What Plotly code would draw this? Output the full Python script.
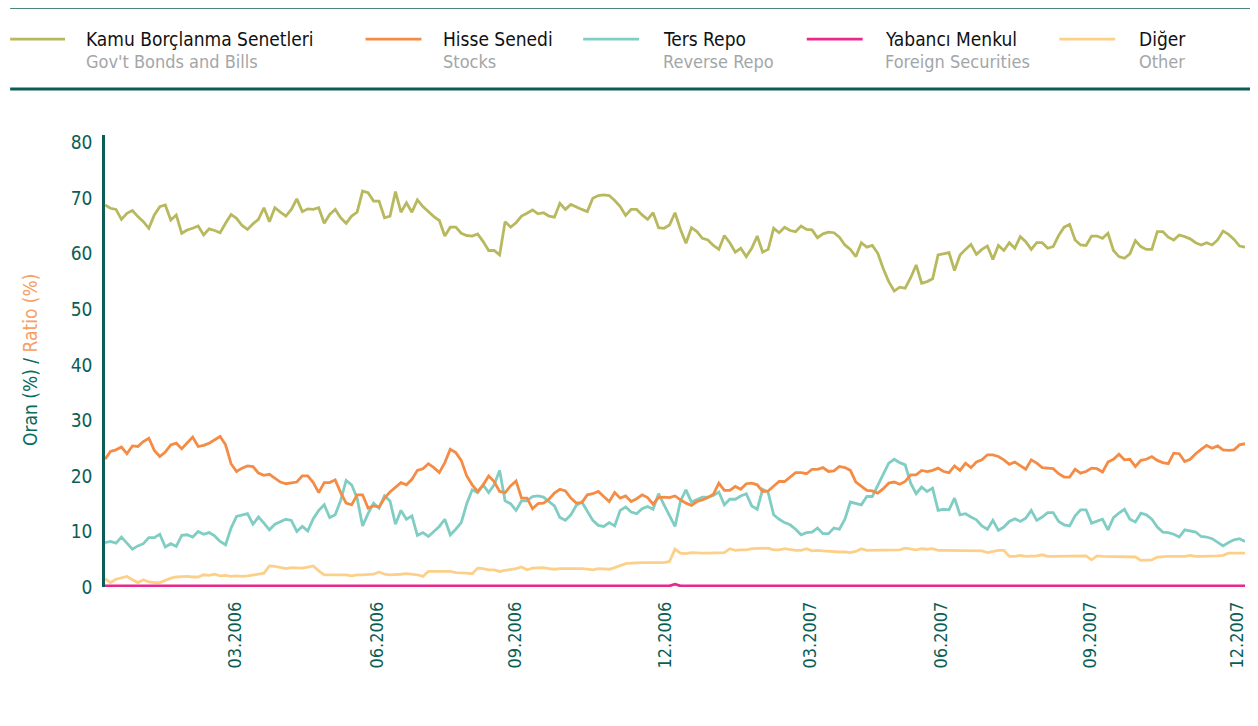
import pandas as pd
import plotly.graph_objects as go

# Observation dates (every 3.5 days, Jan 2006 - Dec 2007)
DATES = pd.date_range("2006-01-02", periods=209, freq="84h")

KAMU = [68.8, 68.2, 68.0, 66.2, 67.3, 67.8, 66.7, 65.8, 64.6, 67.0,
        68.5, 68.8, 66.1, 67.0, 63.7, 64.3, 64.6, 65.0, 63.4, 64.5,
        64.2, 63.8, 65.5, 67.1, 66.4, 65.1, 64.4, 65.4, 66.2, 68.3,
        65.8, 68.3, 67.5, 66.8, 68.0, 69.9, 67.6, 68.1, 68.0, 68.3,
        65.5, 67.1, 68.0, 66.5, 65.5, 66.8, 67.5, 71.3, 71.0, 69.5,
        69.5, 66.5, 66.8, 71.2, 67.5, 69.2, 67.5, 69.7, 68.5, 67.6,
        66.7, 66.0, 63.2, 64.8, 64.8, 63.7, 63.3, 63.2, 63.6, 62.2,
        60.6, 60.6, 59.8, 65.8, 64.8, 65.6, 66.8, 67.3, 67.9, 67.2,
        67.4, 66.8, 66.6, 69.1, 68.0, 68.9, 68.4, 68.0, 67.6, 70.0,
        70.5, 70.6, 70.5, 69.6, 68.5, 66.9, 68.0, 68.0, 67.0, 66.2,
        67.4, 64.7, 64.6, 65.2, 67.4, 64.4, 61.9, 64.7, 64.0, 62.8,
        62.5, 61.5, 60.8, 63.3, 62.0, 60.3, 61.0, 59.5, 61.0, 63.2,
        60.3, 60.8, 64.6, 63.8, 64.8, 64.2, 64.0, 65.0, 64.4, 64.3,
        62.9, 63.6, 63.9, 63.8, 63.0, 61.6, 60.8, 59.5, 62.0, 61.2,
        61.5, 60.1, 57.3, 55.0, 53.3, 54.0, 53.8, 55.7, 58.0, 54.7,
        55.0, 55.5, 59.8, 60.0, 60.2, 57.0, 59.8, 60.8, 61.7, 59.9,
        60.8, 61.4, 59.0, 61.5, 60.6, 62.0, 61.0, 63.1, 62.2, 60.8,
        62.0, 62.0, 61.0, 61.3, 63.3, 64.8, 65.3, 62.5, 61.6, 61.5,
        63.2, 63.2, 62.8, 63.7, 60.6, 59.5, 59.2, 60.0, 62.4, 61.3,
        60.8, 60.8, 64.0, 64.0, 63.0, 62.5, 63.4, 63.1, 62.7, 62.0,
        61.6, 62.0, 61.6, 62.5, 64.1, 63.5, 62.6, 61.4, 61.2]

HISSE = [23.0, 24.4, 24.7, 25.2, 24.0, 25.4, 25.3, 26.2, 26.8, 24.6,
         23.5, 24.3, 25.6, 25.9, 24.9, 26.0, 27.0, 25.3, 25.5, 25.9,
         26.5, 27.1, 25.6, 22.2, 20.8, 21.4, 21.8, 21.7, 20.5, 20.1,
         20.3, 19.6, 18.9, 18.6, 18.8, 18.9, 20.0, 20.0, 18.8, 17.0,
         18.8, 18.8, 19.3, 17.0, 15.1, 14.8, 16.6, 16.6, 14.2, 14.6,
         14.4, 16.0, 17.1, 17.9, 18.8, 18.4, 19.4, 21.0, 21.3, 22.2,
         21.5, 20.6, 22.4, 24.8, 24.2, 22.8, 20.0, 18.4, 17.2, 18.4,
         20.0, 19.0, 17.2, 17.0, 18.2, 19.1, 16.0, 16.0, 14.1, 15.0,
         15.1, 15.8, 16.9, 17.6, 17.3, 16.0, 15.1, 15.2, 16.6, 16.8,
         17.2, 16.3, 15.4, 17.0, 16.0, 16.4, 15.4, 15.9, 16.6, 16.1,
         14.9, 16.1, 16.2, 16.1, 16.4, 15.7, 15.1, 14.7, 15.4, 15.7,
         16.1, 16.7, 18.7, 17.4, 17.4, 18.1, 17.6, 18.6, 18.7, 18.4,
         17.2, 17.3, 18.2, 19.0, 19.0, 19.8, 20.6, 20.6, 20.4, 21.2,
         21.2, 21.5, 20.8, 20.9, 21.7, 21.5, 21.0, 18.9, 18.1, 17.4,
         17.3, 16.9, 17.7, 18.7, 18.9, 18.5, 19.0, 20.2, 20.2, 21.0,
         20.8, 21.0, 21.4, 20.8, 20.6, 21.8, 21.0, 22.3, 21.5, 22.5,
         22.9, 23.8, 23.8, 23.5, 22.9, 22.1, 22.5, 21.8, 21.2, 22.9,
         22.3, 21.5, 21.4, 21.3, 20.4, 19.8, 19.8, 21.2, 20.5, 20.8,
         21.4, 21.3, 20.7, 22.5, 23.0, 23.9, 22.9, 23.0, 21.7, 22.8,
         23.0, 23.5, 22.8, 22.4, 22.2, 24.1, 24.0, 22.6, 23.0, 24.0,
         24.8, 25.5, 25.0, 25.4, 24.7, 24.6, 24.7, 25.6, 25.8]

TERS_REPO = [8.0, 8.2, 7.9, 9.0, 7.9, 6.8, 7.4, 7.8, 8.9, 8.9,
             9.5, 7.2, 7.8, 7.3, 9.3, 9.4, 9.0, 10.0, 9.5, 9.8,
             9.2, 8.2, 7.6, 10.6, 12.7, 12.9, 13.2, 11.3, 12.6, 11.5,
             10.3, 11.3, 11.7, 12.2, 12.0, 10.0, 10.9, 10.1, 12.3, 13.8,
             14.8, 12.5, 13.0, 15.6, 19.2, 18.4, 16.0, 11.0, 13.2, 15.1,
             14.2, 16.4, 15.5, 11.3, 13.8, 12.2, 12.8, 9.3, 9.8, 9.1,
             10.0, 10.9, 12.2, 9.4, 10.4, 11.6, 15.0, 17.5, 17.0, 18.4,
             17.0, 18.4, 21.0, 15.5, 15.0, 13.8, 15.5, 15.5, 16.3, 16.4,
             16.2, 15.4, 14.6, 12.5, 12.0, 13.0, 14.7, 15.3, 13.6, 12.0,
             11.1, 10.9, 11.6, 11.0, 13.8, 14.4, 13.5, 13.2, 14.1, 14.5,
             14.0, 16.8, 14.8, 12.8, 10.9, 15.5, 17.5, 15.3, 15.8, 16.2,
             16.2, 16.5, 17.1, 14.8, 15.8, 15.8, 16.4, 16.8, 14.6, 14.0,
             17.6, 17.0, 13.0, 12.2, 11.6, 11.2, 10.4, 9.4, 9.8, 9.9,
             10.6, 9.6, 9.6, 10.6, 10.4, 12.2, 15.3, 15.0, 14.8, 16.3,
             16.3, 18.3, 20.2, 22.3, 23.0, 22.4, 22.0, 18.7, 16.8, 18.0,
             17.2, 17.8, 13.8, 14.0, 13.9, 16.0, 13.0, 13.2, 12.6, 12.1,
             11.0, 10.4, 12.0, 10.2, 10.8, 11.8, 12.3, 11.8, 12.4, 13.8,
             12.0, 12.6, 13.4, 13.4, 11.8, 11.2, 11.0, 12.8, 13.9, 13.9,
             11.5, 11.8, 12.2, 10.3, 12.5, 13.3, 14.0, 12.2, 11.7, 13.3,
             13.0, 12.2, 10.8, 9.9, 9.8, 9.5, 9.0, 10.3, 10.1, 9.9,
             9.1, 9.0, 8.7, 8.0, 7.4, 8.0, 8.5, 8.7, 8.2]

YABANCI = [0.2, 0.2, 0.2, 0.2, 0.2, 0.2, 0.2, 0.2, 0.2, 0.2,
           0.2, 0.2, 0.2, 0.2, 0.2, 0.2, 0.2, 0.2, 0.2, 0.2,
           0.2, 0.2, 0.2, 0.2, 0.2, 0.2, 0.2, 0.2, 0.2, 0.2,
           0.2, 0.2, 0.2, 0.2, 0.2, 0.2, 0.2, 0.2, 0.2, 0.2,
           0.2, 0.2, 0.2, 0.2, 0.2, 0.2, 0.2, 0.2, 0.2, 0.2,
           0.2, 0.2, 0.2, 0.2, 0.2, 0.2, 0.2, 0.2, 0.2, 0.2,
           0.2, 0.2, 0.2, 0.2, 0.2, 0.2, 0.2, 0.2, 0.2, 0.2,
           0.2, 0.2, 0.2, 0.2, 0.2, 0.2, 0.2, 0.2, 0.2, 0.2,
           0.2, 0.2, 0.2, 0.2, 0.2, 0.2, 0.2, 0.2, 0.2, 0.2,
           0.2, 0.2, 0.2, 0.2, 0.2, 0.2, 0.2, 0.2, 0.2, 0.2,
           0.2, 0.2, 0.2, 0.2, 0.5, 0.2, 0.2, 0.2, 0.2, 0.2,
           0.2, 0.2, 0.2, 0.2, 0.2, 0.2, 0.2, 0.2, 0.2, 0.2,
           0.2, 0.2, 0.2, 0.2, 0.2, 0.2, 0.2, 0.2, 0.2, 0.2,
           0.2, 0.2, 0.2, 0.2, 0.2, 0.2, 0.2, 0.2, 0.2, 0.2,
           0.2, 0.2, 0.2, 0.2, 0.2, 0.2, 0.2, 0.2, 0.2, 0.2,
           0.2, 0.2, 0.2, 0.2, 0.2, 0.2, 0.2, 0.2, 0.2, 0.2,
           0.2, 0.2, 0.2, 0.2, 0.2, 0.2, 0.2, 0.2, 0.2, 0.2,
           0.2, 0.2, 0.2, 0.2, 0.2, 0.2, 0.2, 0.2, 0.2, 0.2,
           0.2, 0.2, 0.2, 0.2, 0.2, 0.2, 0.2, 0.2, 0.2, 0.2,
           0.2, 0.2, 0.2, 0.2, 0.2, 0.2, 0.2, 0.2, 0.2, 0.2,
           0.2, 0.2, 0.2, 0.2, 0.2, 0.2, 0.2, 0.2, 0.2]

DIGER = [1.5, 0.8, 1.4, 1.6, 1.9, 1.3, 0.8, 1.3, 0.9, 0.8,
         0.8, 1.2, 1.6, 1.8, 1.9, 1.9, 1.8, 1.8, 2.2, 2.1,
         2.3, 2.0, 2.1, 1.9, 2.0, 1.9, 2.0, 2.1, 2.3, 2.5,
         3.8, 3.7, 3.5, 3.3, 3.5, 3.4, 3.4, 3.6, 3.8, 2.9,
         2.2, 2.2, 2.2, 2.2, 2.2, 2.0, 2.2, 2.2, 2.2, 2.3,
         2.7, 2.3, 2.2, 2.2, 2.3, 2.4, 2.3, 2.2, 1.9, 2.8,
         2.8, 2.8, 2.8, 2.8, 2.6, 2.6, 2.5, 2.4, 3.4, 3.3,
         3.1, 3.1, 2.8, 3.0, 3.1, 3.3, 3.6, 3.1, 3.4, 3.4,
         3.5, 3.3, 3.2, 3.3, 3.3, 3.4, 3.4, 3.3, 3.2, 3.1,
         3.3, 3.2, 3.2, 3.5, 3.8, 4.2, 4.3, 4.4, 4.4, 4.4,
         4.4, 4.4, 4.4, 4.6, 6.8, 6.1, 6.0, 6.2, 6.1, 6.1,
         6.1, 6.1, 6.1, 6.2, 6.9, 6.6, 6.7, 6.7, 6.9, 6.9,
         6.9, 7.0, 6.7, 6.7, 6.9, 6.7, 6.6, 6.6, 6.9, 6.5,
         6.6, 6.5, 6.4, 6.4, 6.3, 6.3, 6.2, 6.4, 6.9, 6.6,
         6.6, 6.6, 6.6, 6.6, 6.6, 6.7, 7.0, 6.9, 6.7, 6.9,
         6.8, 6.9, 6.6, 6.6, 6.6, 6.6, 6.6, 6.6, 6.6, 6.6,
         6.5, 6.2, 6.4, 6.6, 6.6, 5.5, 5.5, 5.7, 5.5, 5.5,
         5.6, 5.8, 5.5, 5.5, 5.5, 5.5, 5.5, 5.5, 5.5, 5.6,
         4.9, 5.6, 5.5, 5.5, 5.5, 5.5, 5.5, 5.5, 5.4, 4.8,
         4.8, 4.9, 5.4, 5.5, 5.5, 5.5, 5.5, 5.5, 5.7, 5.5,
         5.5, 5.5, 5.5, 5.6, 5.7, 6.1, 6.1, 6.1, 6.1]

TICK_DATES = ["2006-03-26", "2006-06-25", "2006-09-21", "2006-12-26",
              "2007-03-28", "2007-06-20", "2007-09-23", "2007-12-26"]
TICK_LABELS = ["03.2006", "06.2006", "09.2006", "12.2006",
               "03.2007", "06.2007", "09.2007", "12.2007"]

SERIES_TR = ["Kamu Borçlanma Senetleri", "Hisse Senedi", "Ters Repo",
             "Yabancı Menkul", "Diğer"]
SERIES_EN = ["Gov't Bonds and Bills", "Stocks", "Reverse Repo",
             "Foreign Securities", "Other"]
COLORS = ["#b8b95e", "#f58c45", "#80cdc4", "#e8288c", "#fdd08a"]
VALUES = [KAMU, HISSE, TERS_REPO, YABANCI, DIGER]

AXIS_COLOR = "#0b5e55"
FONT = "DejaVu Sans Condensed, DejaVu Sans"

fig = go.Figure()
draw_order = [4, 2, 1, 0, 3]
for i in draw_order:
    fig.add_trace(go.Scatter(x=DATES, y=VALUES[i], mode="lines",
                             line=dict(color=COLORS[i], width=2.8),
                             name=SERIES_TR[i], showlegend=False))

# page offset (body margin) of 8px
OFF = 8
W, H = 1258 - OFF, 726 - OFF
ML, MR, MT, MB = 105 - OFF, 11, 135 - OFF, 138.5
PW, PH = W - ML - MR, H - MT - MB


def px(x):
    return (x - OFF - ML) / PW


def py(y):
    return (H - MB - (y - OFF)) / PH


shapes = []
annotations = []
for yy in (7, 89):
    shapes.append(dict(type="line", xref="paper", yref="paper",
                       x0=px(10), x1=px(1262), y0=py(yy), y1=py(yy),
                       line=dict(color=AXIS_COLOR, width=3)))
line_x = [(10, 65), (366, 422), (584, 640), (808, 864), (1061, 1117)]
text_x = [84, 442, 662, 884, 1139]
for i in range(5):
    shapes.append(dict(type="line", xref="paper", yref="paper",
                       x0=px(line_x[i][0]), x1=px(line_x[i][1]),
                       y0=py(39), y1=py(39),
                       line=dict(color=COLORS[i], width=2.7)))
    annotations.append(dict(xref="paper", yref="paper", x=px(text_x[i]), y=py(39),
                            xanchor="left", yanchor="middle", showarrow=False,
                            text=SERIES_TR[i],
                            font=dict(family=FONT, size=19, color="#111111")))
    annotations.append(dict(xref="paper", yref="paper", x=px(text_x[i]), y=py(61),
                            xanchor="left", yanchor="middle", showarrow=False,
                            text=SERIES_EN[i],
                            font=dict(family=FONT, size=18, color="#a3a6a8")))

annotations.append(dict(xref="paper", yref="paper", x=px(30), y=py(360),
                        xanchor="center", yanchor="middle", showarrow=False,
                        textangle=-90,
                        text="<span style='color:#0b6b5e'>Oran (%) / </span>"
                             "<span style='color:#f7a066'>Ratio (%)</span>",
                        font=dict(family=FONT, size=19)))

fig.update_layout(
    width=W, height=H,
    margin=dict(l=ML, r=MR, t=MT, b=MB, pad=0),
    paper_bgcolor="white", plot_bgcolor="white",
    shapes=shapes, annotations=annotations,
    xaxis=dict(type="date", range=[DATES[0], DATES[-1]],
               tickmode="array", tickvals=TICK_DATES, ticktext=TICK_LABELS,
               tickangle=-90, showgrid=False, zeroline=False, showline=False,
               ticks="", ticklabelstandoff=10,
               tickfont=dict(family=FONT, size=18, color=AXIS_COLOR)),
    yaxis=dict(range=[0, 81.4], tickmode="array",
               tickvals=[0, 10, 20, 30, 40, 50, 60, 70, 80],
               showgrid=False, zeroline=False, showline=True,
               linecolor=AXIS_COLOR, linewidth=2.5, ticks="",
               ticklabelstandoff=6,
               tickfont=dict(family=FONT, size=19, color=AXIS_COLOR)),
)

fig.write_html("out.html")
